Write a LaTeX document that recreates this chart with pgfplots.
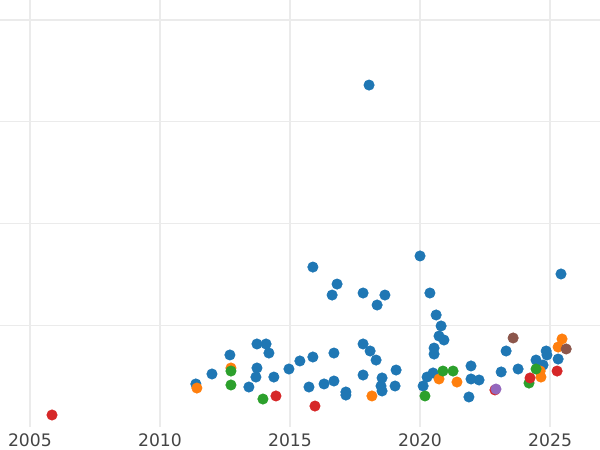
\documentclass[border=0pt]{standalone}
\usepackage{fontspec}
\setmainfont{DejaVu Sans}
\usepackage{pgfplots}
\pgfplotsset{compat=1.18}
\definecolor{c0}{HTML}{1F77B4}
\definecolor{c1}{HTML}{FF7F0E}
\definecolor{c2}{HTML}{2CA02C}
\definecolor{c3}{HTML}{D62728}
\definecolor{c4}{HTML}{9467BD}
\definecolor{c5}{HTML}{8C564B}
\definecolor{gridc}{HTML}{EBEBEB}
\definecolor{tickc}{HTML}{444444}
\begin{document}
\begin{tikzpicture}
\begin{axis}[
  at={(0,11.5bp)}, anchor=south west,
  scale only axis, width=300bp, height=213.5bp,
  xmin=2003.85, xmax=2026.92, ymin=0, ymax=4.197,
  axis line style={draw=none},
  xtick={2005,2010,2015,2020,2025},
  xticklabels={2005,2010,2015,2020,2025},
  ytick={1,2,3,4}, yticklabels={},
  major tick length=0pt,
  grid=major, grid style={color=gridc, line width=0.6bp},
  xticklabel style={font=\fontsize{8.6bp}{10bp}\selectfont, text=tickc, inner sep=0pt, yshift=-3.35bp},
  every axis plot/.append style={only marks, mark=*, mark size=2.6bp, line width=0.3bp},
]
\addplot[color=c0] coordinates {
(2011.38,0.423) (2012.00,0.521) (2012.69,0.708) (2013.42,0.393) (2013.73,0.816)
(2014.08,0.816) (2014.19,0.727) (2013.73,0.580) (2013.69,0.491) (2014.38,0.491)
(2014.96,0.570) (2015.38,0.649) (2015.88,0.688) (2016.69,0.727) (2015.73,0.393)
(2016.31,0.423) (2016.69,0.452) (2017.15,0.344) (2017.15,0.314) (2017.81,0.816)
(2018.08,0.747) (2018.31,0.658) (2017.81,0.511) (2018.54,0.482) (2018.50,0.403)
(2018.54,0.354) (2019.08,0.560) (2019.04,0.403) (2015.88,1.572) (2016.81,1.405)
(2016.62,1.297) (2017.81,1.317) (2018.65,1.297) (2018.35,1.199) (2018.04,3.361)
(2020.00,1.681) (2020.38,1.317) (2020.62,1.101) (2020.81,0.993) (2020.73,0.894)
(2020.92,0.855) (2020.54,0.776) (2020.54,0.717) (2020.27,0.491) (2020.50,0.531)
(2020.12,0.403) (2021.96,0.600) (2021.96,0.472) (2022.27,0.462) (2021.88,0.295)
(2023.12,0.541) (2023.31,0.747) (2023.77,0.570) (2024.46,0.658) (2024.85,0.747)
(2024.88,0.708) (2024.73,0.609) (2025.31,0.668) (2025.42,1.504)
};
\addplot[color=c1] coordinates {
(2011.42,0.383) (2012.73,0.580) (2018.15,0.305) (2020.73,0.472) (2021.42,0.442)
(2024.62,0.550) (2024.65,0.491) (2025.31,0.786) (2025.46,0.865)
};
\addplot[color=c2] coordinates {
(2012.73,0.550) (2012.73,0.413) (2013.96,0.275) (2020.19,0.305) (2020.88,0.550)
(2021.27,0.550) (2024.46,0.570) (2024.19,0.432)
};
\addplot[color=c3] coordinates {
(2005.85,0.118) (2014.46,0.305) (2015.96,0.206) (2022.88,0.364) (2024.23,0.482)
(2025.27,0.550)
};
\addplot[color=c4] coordinates {
(2022.92,0.373)
};
\addplot[color=c5] coordinates {
(2023.58,0.875) (2025.62,0.767)
};
\end{axis}
\pgfresetboundingbox
\path[use as bounding box] (0,0) rectangle (300bp,225bp);
\end{tikzpicture}
\end{document}
